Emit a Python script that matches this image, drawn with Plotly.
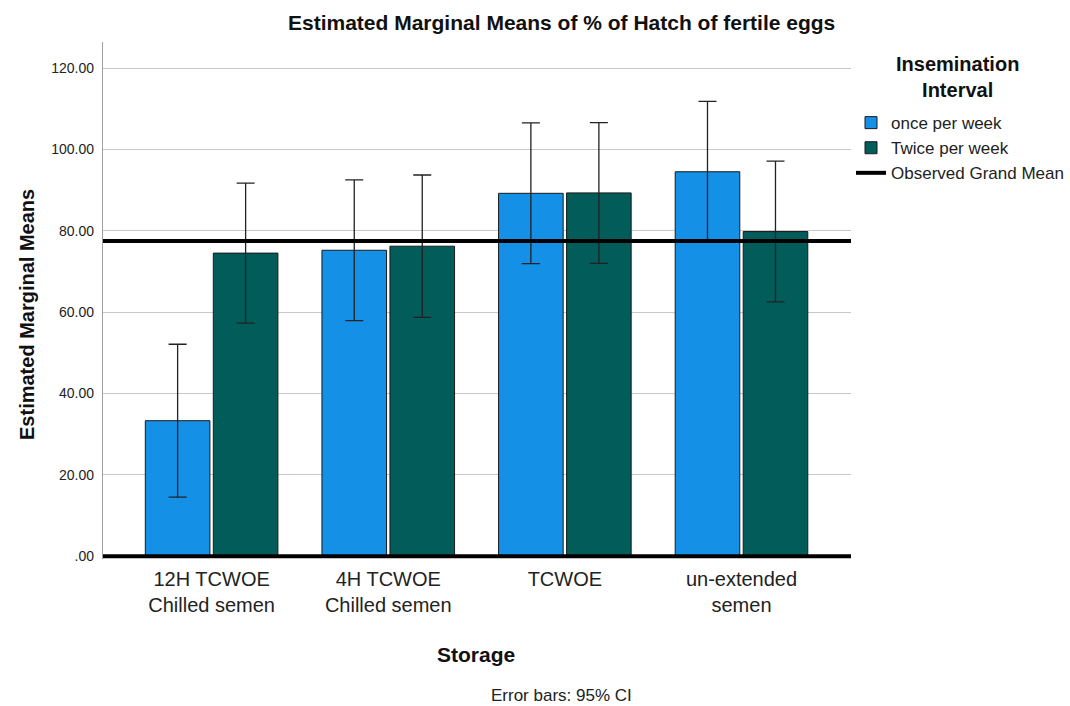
import plotly.graph_objects as go

# Estimated marginal means (% hatch of fertile eggs) by storage and insemination interval
storage = ["12H TCWOE<br>Chilled semen", "4H TCWOE<br>Chilled semen", "TCWOE", "un-extended<br>semen"]
once_mean = [33.3, 75.2, 89.2, 94.5]
once_ci = [18.8, 17.3, 17.3, 17.3]
twice_mean = [74.5, 76.2, 89.3, 79.8]
twice_ci = [17.2, 17.5, 17.3, 17.3]
grand_mean = 77.45

y_ticks = [0, 20, 40, 60, 80, 100, 120]
y_tick_text = [".00", "20.00", "40.00", "60.00", "80.00", "100.00", "120.00"]

BLUE = "#1490E6"
TEAL = "#015C5A"
SANS = "Liberation Sans, Arial, sans-serif"

fig = go.Figure()
fig.add_trace(go.Bar(
    x=storage, y=once_mean, name="once per week",
    marker=dict(color=BLUE, line=dict(color="#1a1a1a", width=1)),
    error_y=dict(type="data", array=once_ci, symmetric=True, color="#222222", thickness=1.3, width=9),
))
fig.add_trace(go.Bar(
    x=storage, y=twice_mean, name="Twice per week",
    marker=dict(color=TEAL, line=dict(color="#1a1a1a", width=1)),
    error_y=dict(type="data", array=twice_ci, symmetric=True, color="#222222", thickness=1.3, width=9),
))
# legend entry for the grand-mean reference line
fig.add_trace(go.Scatter(
    x=[None], y=[None], mode="lines", name="Observed Grand Mean",
    line=dict(color="black", width=4),
))

# grand mean and zero baseline
fig.add_shape(type="line", xref="paper", yref="y", x0=0, x1=1, y0=grand_mean, y1=grand_mean,
              line=dict(color="black", width=4), layer="above")
fig.add_shape(type="line", xref="paper", yref="y", x0=0, x1=1, y0=0, y1=0,
              line=dict(color="black", width=4), layer="above")

fig.update_layout(
    width=1070, height=706,
    margin=dict(l=103, r=219, t=42, b=147, autoexpand=False),
    paper_bgcolor="white", plot_bgcolor="white",
    barmode="group", bargap=0.23, bargroupgap=0.05,
    showlegend=True,
    legend=dict(
        x=1.0, xanchor="left", y=0.878, yanchor="top",
        font=dict(family=SANS, size=17, color="#222"),
        tracegroupgap=0, itemwidth=30,
        bgcolor="rgba(0,0,0,0)",
    ),
    xaxis=dict(
        range=[-0.615, 3.62], showgrid=False, showline=False, zeroline=False,
        ticks="", ticklabelstandoff=6, tickfont=dict(family=SANS, size=20, color="#222"),
    ),
    yaxis=dict(
        range=[-0.7, 126.4], tickvals=y_ticks, ticktext=y_tick_text,
        showgrid=True, gridcolor="#C8C8C8", gridwidth=1.3, zeroline=False,
        showline=True, linecolor="#A0A0A0", linewidth=1.3,
        ticks="", ticklen=0, ticklabelstandoff=5,
        tickfont=dict(family=SANS, size=14, color="#222"),
    ),
    annotations=[
        dict(text="<b>Estimated Marginal Means of % of Hatch of fertile eggs</b>",
             xref="paper", yref="paper", x=0.6136, y=1.0, yshift=20, xanchor="center", yanchor="middle",
             showarrow=False, font=dict(family=SANS, size=21, color="#111")),
        dict(text="<b>Insemination<br>Interval</b>",
             xref="paper", yref="paper", x=1.143, y=1.0, yshift=-35, xanchor="center", yanchor="middle",
             showarrow=False, font=dict(family=SANS, size=20, color="#111")),
        dict(text="<b>Estimated Marginal Means</b>",
             xref="paper", yref="paper", x=0, xshift=-76, y=0.472, textangle=-90,
             xanchor="center", yanchor="middle",
             showarrow=False, font=dict(family=SANS, size=20, color="#111")),
        dict(text="<b>Storage</b>",
             xref="paper", yref="paper", x=0.4987, y=0, yshift=-95, xanchor="center", yanchor="middle",
             showarrow=False, font=dict(family=SANS, size=21, color="#111")),
        dict(text="Error bars: 95% CI",
             xref="paper", yref="paper", x=0.6136, y=0, yshift=-136, xanchor="center", yanchor="middle",
             showarrow=False, font=dict(family=SANS, size=17, color="#222")),
    ],
)

fig.write_html("out.html")
